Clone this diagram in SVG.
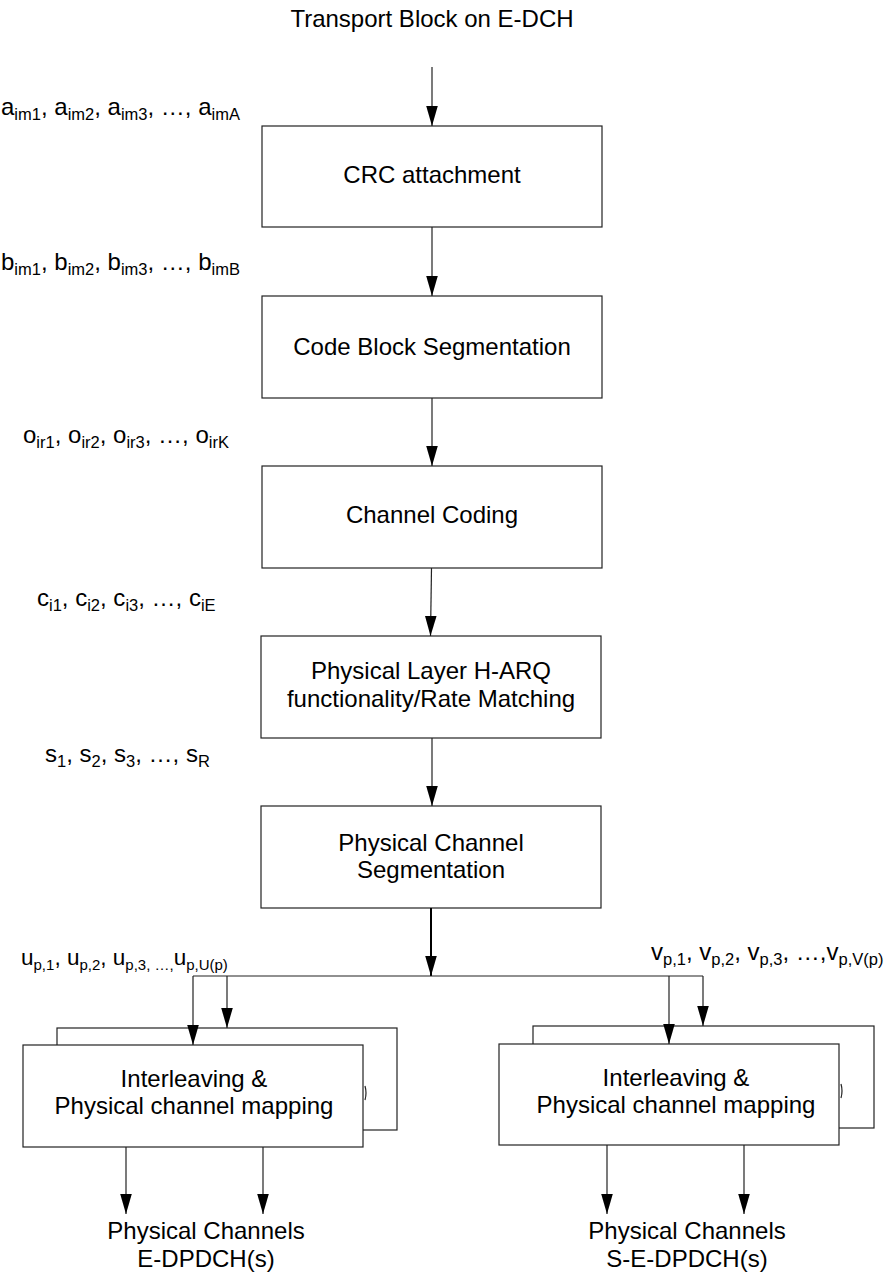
<svg xmlns="http://www.w3.org/2000/svg" width="887" height="1276" viewBox="0 0 887 1276">
<style>
text{font-family:"Liberation Sans",Arial,sans-serif;font-size:24px;fill:#000}
.c{text-anchor:middle}
.sub{font-size:16.5px}
.lu{font-size:22.5px}
.lu .sub{font-size:15px}
.box{fill:#fff;stroke:#222;stroke-width:1.2}
.ln{fill:none;stroke:#222;stroke-width:1.2}
.thick{fill:none;stroke:#000;stroke-width:2}
</style>
<defs>
<marker id="ahv" markerUnits="userSpaceOnUse" markerWidth="20" markerHeight="12" viewBox="0 0 19 11" refX="19" refY="5.5" orient="auto">
<path d="M0,0 L19,5.5 L0,11 z" fill="#000"/>
</marker>
</defs>

<text id="title" class="c" x="432" y="27">Transport Block on E-DCH</text>

<g id="labels">
<text x="1" y="115">a<tspan class="sub" dy="5">im1</tspan><tspan dy="-5">, a</tspan><tspan class="sub" dy="5">im2</tspan><tspan dy="-5">, a</tspan><tspan class="sub" dy="5">im3</tspan><tspan dy="-5">, …, a</tspan><tspan class="sub" dy="5">imA</tspan></text>
<text x="1" y="270">b<tspan class="sub" dy="5">im1</tspan><tspan dy="-5">, b</tspan><tspan class="sub" dy="5">im2</tspan><tspan dy="-5">, b</tspan><tspan class="sub" dy="5">im3</tspan><tspan dy="-5">, …, b</tspan><tspan class="sub" dy="5">imB</tspan></text>
<text x="23" y="443">o<tspan class="sub" dy="5">ir1</tspan><tspan dy="-5">, o</tspan><tspan class="sub" dy="5">ir2</tspan><tspan dy="-5">, o</tspan><tspan class="sub" dy="5">ir3</tspan><tspan dy="-5">, …, o</tspan><tspan class="sub" dy="5">irK</tspan></text>
<text x="37" y="606">c<tspan class="sub" dy="5">i1</tspan><tspan dy="-5">, c</tspan><tspan class="sub" dy="5">i2</tspan><tspan dy="-5">, c</tspan><tspan class="sub" dy="5">i3</tspan><tspan dy="-5">, …, c</tspan><tspan class="sub" dy="5">iE</tspan></text>
<text x="45" y="762">s<tspan class="sub" dy="5">1</tspan><tspan dy="-5">, s</tspan><tspan class="sub" dy="5">2</tspan><tspan dy="-5">, s</tspan><tspan class="sub" dy="5">3</tspan><tspan dy="-5">, …, s</tspan><tspan class="sub" dy="5">R</tspan></text>
<text class="lu" x="21" y="965">u<tspan class="sub" dy="5">p,1</tspan><tspan dy="-5">, u</tspan><tspan class="sub" dy="5">p,2</tspan><tspan dy="-5">, u</tspan><tspan class="sub" dy="5">p,3, …,</tspan><tspan dy="-5">u</tspan><tspan class="sub" dy="5">p,U(p)</tspan></text>
<text x="651" y="960">v<tspan class="sub" dy="5">p,1</tspan><tspan dy="-5">, v</tspan><tspan class="sub" dy="5">p,2</tspan><tspan dy="-5">, v</tspan><tspan class="sub" dy="5">p,3</tspan><tspan dy="-5">, …,v</tspan><tspan class="sub" dy="5">p,V(p)</tspan></text>
</g>

<g id="crc">
<rect class="box" x="262" y="126" width="340" height="101"/>
<text class="c" x="432" y="183">CRC attachment</text>
</g>
<g id="cbs">
<rect class="box" x="262" y="296" width="340" height="102"/>
<text class="c" x="432" y="355">Code Block Segmentation</text>
</g>
<g id="cc">
<rect class="box" x="262" y="466" width="340" height="102"/>
<text class="c" x="432" y="523">Channel Coding</text>
</g>
<g id="harq">
<rect class="box" x="261" y="636" width="340" height="102"/>
<text class="c" x="431" y="679">Physical Layer H-ARQ</text>
<text class="c" x="431" y="707">functionality/Rate Matching</text>
</g>
<g id="pcs">
<rect class="box" x="261" y="806" width="340" height="102"/>
<text class="c" x="431" y="851">Physical Channel</text>
<text class="c" x="431" y="878">Segmentation</text>
</g>

<g id="map-left">
<rect class="box" x="57" y="1028" width="340" height="102"/>
<path class="ln" d="M365,1086 Q367,1093 365,1100"/>
<rect class="box" x="23" y="1045" width="340" height="102"/>
<text class="c" x="194" y="1087">Interleaving &amp;</text>
<text class="c" x="194" y="1114">Physical channel mapping</text>
</g>
<g id="map-right">
<rect class="box" x="533" y="1026" width="341" height="102"/>
<path class="ln" d="M841,1084 Q843,1091 841,1098"/>
<rect class="box" x="499" y="1044" width="340" height="101"/>
<text class="c" x="676" y="1086">Interleaving &amp;</text>
<text class="c" x="676" y="1113">Physical channel mapping</text>
</g>

<g id="out-left">
<text class="c" x="206" y="1239">Physical Channels</text>
<text class="c" x="206" y="1267">E-DPDCH(s)</text>
</g>
<g id="out-right">
<text class="c" x="687" y="1239">Physical Channels</text>
<text class="c" x="687" y="1267">S-E-DPDCH(s)</text>
</g>

<g id="connectors">
<line class="ln" x1="432" y1="67" x2="432" y2="126" marker-end="url(#ahv)"/>
<line class="ln" x1="432" y1="227" x2="432" y2="296" marker-end="url(#ahv)"/>
<line class="ln" x1="432" y1="398" x2="432" y2="466" marker-end="url(#ahv)"/>
<line class="ln" x1="431.5" y1="568" x2="430.5" y2="636" marker-end="url(#ahv)"/>
<line class="ln" x1="432" y1="738" x2="432" y2="806" marker-end="url(#ahv)"/>
<line class="thick" x1="431" y1="908" x2="431" y2="976" marker-end="url(#ahv)"/>
<line class="ln" x1="193" y1="976" x2="703" y2="976"/>
<line class="ln" x1="193" y1="976" x2="193" y2="1045" marker-end="url(#ahv)"/>
<line class="ln" x1="227" y1="976" x2="227" y2="1028" marker-end="url(#ahv)"/>
<line class="ln" x1="669" y1="976" x2="669" y2="1044" marker-end="url(#ahv)"/>
<line class="ln" x1="703" y1="976" x2="703" y2="1026" marker-end="url(#ahv)"/>
<line class="ln" x1="126" y1="1147" x2="126" y2="1214" marker-end="url(#ahv)"/>
<line class="ln" x1="263" y1="1147" x2="263" y2="1214" marker-end="url(#ahv)"/>
<line class="ln" x1="607" y1="1145" x2="607" y2="1214" marker-end="url(#ahv)"/>
<line class="ln" x1="744" y1="1145" x2="744" y2="1214" marker-end="url(#ahv)"/>
</g>
</svg>
